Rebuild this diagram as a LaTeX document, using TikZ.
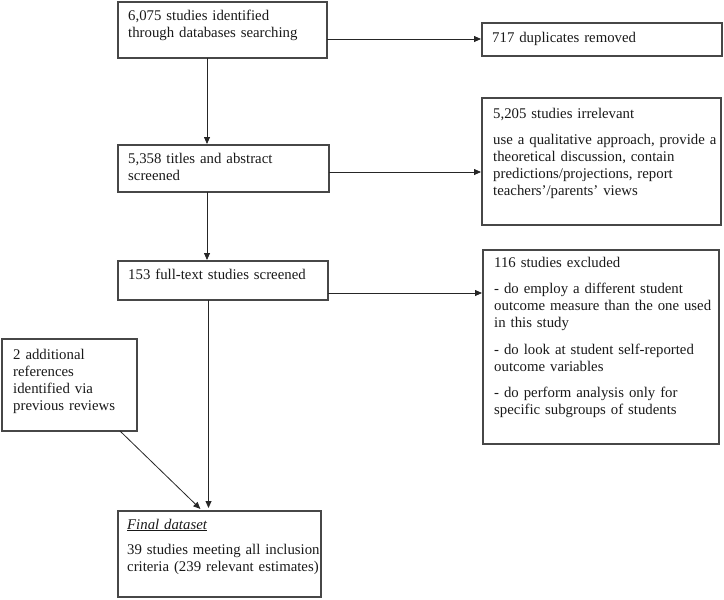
\documentclass[tikz,border=0pt]{standalone}
\usepackage{fontspec}
\setmainfont{Liberation Serif}
\usetikzlibrary{arrows.meta}
\begin{document}
\begin{tikzpicture}[x=1pt,y=-1pt,
  box/.style={draw=black!72, line width=1.2pt, inner sep=0pt, outer sep=0pt, anchor=north west},
  txt/.style={anchor=base west, inner sep=0pt, text width=240pt, align=left,
    font=\fontsize{14.8}{17}\selectfont, text=black!90},
  arr/.style={draw=black!85, line width=0.8pt, -{Triangle[length=7pt,width=6pt]}, shorten >=1pt}]
\useasboundingbox (0,0) rectangle (724,600);
% boxes
\node[box, minimum width=209pt, minimum height=56pt] (b1) at (118,2) {};
\node[box, minimum width=240pt, minimum height=33pt] (b2) at (482,23) {};
\node[box, minimum width=211pt, minimum height=47pt] (b3) at (118,145) {};
\node[box, minimum width=239pt, minimum height=127pt] (b4) at (482,98) {};
\node[box, minimum width=210pt, minimum height=39pt] (b5) at (118,261) {};
\node[box, minimum width=236pt, minimum height=194pt] (b6) at (483,250) {};
\node[box, minimum width=135pt, minimum height=92pt] (b7) at (2,339) {};
\node[box, minimum width=203pt, minimum height=86pt] (b8) at (118,511) {};
% texts
\node[txt] (t1) at (128,20) {6,075 studies identified\\through databases searching};
\node[txt] (t2) at (492,42) {717 duplicates removed};
\node[txt] (t3) at (128,163) {5,358 titles and abstract\\screened};
\node[txt] (t4) at (493,118) {5,205 studies irrelevant\\[9.5pt]use a qualitative approach, provide a\\theoretical discussion, contain\\predictions/projections, report\\teachers’/parents’ views};
\node[txt] (t5) at (128,279) {153 full-text studies screened};
\node[txt] (t6) at (494,267) {116 studies excluded\\[9.5pt]- do employ a different student\\outcome measure than the one used\\in this study\\[9.5pt]- do look at student self-reported\\outcome variables\\[9.5pt]- do perform analysis only for\\specific subgroups of students};
\node[txt] (t7) at (13,359) {2 additional\\references\\identified via\\previous reviews};
\node[txt] (t8) at (127,529) {\underline{\textit{Final dataset}}\\[8pt]39 studies meeting all inclusion\\criteria (239 relevant estimates)};
% connectors
\draw[arr] ([yshift=-9pt]b1.east) -- ([yshift=-9pt]b1.east -| b2.west);
\draw[arr] ([xshift=-15.5pt]b1.south) -- ([xshift=-15.5pt]b1.south |- b3.north);
\draw[arr] ([yshift=-3.5pt]b3.east) -- ([yshift=-3.5pt]b3.east -| b4.west);
\draw[arr] ([xshift=-16.5pt]b3.south) -- ([xshift=-16.5pt]b3.south |- b5.north);
\draw[arr] ([yshift=-12.5pt]b5.east) -- ([yshift=-12.5pt]b5.east -| b6.west);
\draw[arr, shorten >=3pt] ([xshift=-14.5pt]b5.south) -- ([xshift=-14.5pt]b5.south |- b8.north);
\draw[arr, shorten >=3pt] ([xshift=50.5pt]b7.south) -- ([xshift=-17pt]b8.north);
\end{tikzpicture}
\end{document}
